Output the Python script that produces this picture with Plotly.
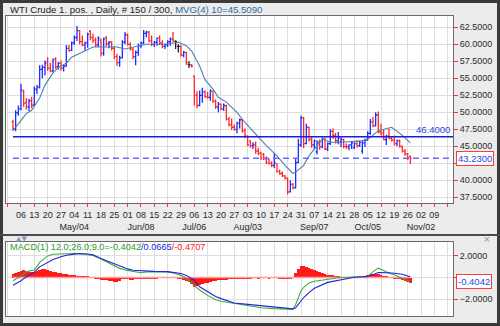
import numpy as np
import pandas as pd
import plotly.graph_objects as go

# ---------------- data ----------------
# daily sessions, WTI crude (1st position)
dates = pd.bdate_range("2015-04-01", "2015-10-27")

opens = [48.6, 47.6, 49.9, 50.5, 53.1, 51.4, 50.8, 51.7, 51.1, 53.4,
         53.7, 56.3, 56.6, 57.4, 56.5, 56.1, 57.9, 56.7, 57.2, 56.5,
         56.8, 59.4, 59.1, 60.2, 61.0, 62.0, 60.4, 59.9, 60.2, 61.9,
         61.0, 60.6, 59.9, 60.6, 58.7, 61.0, 60.1, 60.3, 59.4, 58.2,
         57.3, 58.0, 60.3, 61.4, 60.0, 59.3, 58.2, 58.8, 59.8, 60.2,
         61.6, 61.8, 60.5, 60.0, 60.3, 60.9, 60.2, 59.7, 59.9, 60.4,
         60.8, 60.4, 59.7, 59.7, 58.4, 58.8, 57.0, 56.9, 55.3, 52.5,
         51.0, 52.5, 53.0, 52.3, 52.2, 53.1, 51.6, 50.8, 51.2, 50.5,
         51.0, 49.0, 48.2, 47.8, 47.5, 48.4, 48.9, 47.3, 46.5, 45.8,
         45.1, 45.2, 44.3, 44.0, 43.8, 43.2, 43.1, 42.5, 42.2, 42.4,
         41.3, 41.0, 40.6, 40.3, 38.3, 39.4, 38.9, 42.6, 45.2, 49.2,
         45.4, 47.8, 46.0, 45.2, 44.2, 45.6, 44.9, 46.1, 44.6, 45.4,
         47.2, 46.6, 45.8, 45.6, 46.0, 45.0, 44.9, 45.2, 44.8, 45.4,
         45.1, 44.3, 45.5, 45.9, 46.9, 48.6, 48.0, 49.6, 47.1, 47.0,
         46.0, 46.5, 46.2, 45.9, 45.4, 45.8, 45.0, 44.3, 43.9, 43.5]
highs = [48.9, 50.3, 51.0, 54.2, 53.3, 52.1, 52.0, 52.3, 53.8, 54.0,
         56.9, 57.0, 57.6, 58.1, 57.3, 57.9, 58.1, 57.4, 57.6, 57.0,
         59.9, 59.9, 60.4, 61.3, 62.7, 62.1, 61.3, 60.4, 61.7, 62.1,
         61.6, 61.0, 61.2, 60.8, 61.0, 61.2, 60.5, 60.5, 59.7, 58.6,
         58.3, 60.6, 61.8, 61.6, 60.3, 59.5, 59.1, 60.1, 60.4, 62.1,
         62.0, 62.0, 61.3, 60.5, 61.0, 61.3, 60.6, 60.1, 60.6, 61.0,
         61.8, 60.6, 60.0, 59.9, 59.0, 58.9, 57.5, 57.1, 55.4, 53.1,
         53.2, 53.6, 53.2, 53.0, 53.4, 53.2, 51.9, 51.5, 51.3, 51.3,
         51.1, 49.3, 49.1, 48.2, 48.6, 49.1, 48.9, 47.6, 46.6, 45.9,
         45.6, 45.7, 44.8, 44.2, 44.0, 43.5, 43.2, 42.8, 44.0, 42.5,
         41.6, 41.3, 40.8, 40.4, 40.0, 39.6, 43.2, 46.1, 49.5, 49.3,
         48.3, 47.9, 46.4, 46.0, 45.9, 46.0, 46.3, 46.3, 45.6, 47.5,
         47.6, 47.0, 47.1, 46.3, 46.1, 45.4, 45.3, 45.7, 45.6, 45.9,
         45.8, 45.9, 46.1, 47.2, 49.0, 49.3, 50.0, 50.1, 48.3, 47.4,
         46.7, 47.6, 46.4, 46.6, 46.0, 46.0, 45.1, 44.6, 44.0, 43.6]
lows = [47.3, 47.2, 49.5, 50.3, 50.8, 50.4, 50.2, 50.6, 50.9, 52.7,
        53.5, 55.0, 55.4, 56.1, 55.9, 55.9, 56.4, 56.3, 56.1, 56.0,
        56.7, 58.9, 59.0, 59.9, 60.5, 60.0, 59.7, 59.1, 59.5, 60.6,
        60.2, 59.6, 59.6, 58.2, 58.3, 59.7, 59.4, 59.1, 57.8, 56.8,
        56.7, 57.9, 60.0, 59.8, 59.1, 57.8, 56.9, 58.3, 59.4, 60.0,
        61.0, 60.3, 59.7, 59.6, 59.8, 59.9, 59.4, 59.3, 59.6, 59.8,
        60.3, 59.3, 58.8, 58.2, 58.1, 57.0, 56.5, 56.6, 51.0, 50.6,
        50.9, 51.4, 52.1, 52.0, 51.7, 51.4, 50.5, 50.0, 50.3, 50.2,
        48.8, 47.9, 47.4, 47.3, 46.9, 47.6, 47.0, 46.2, 45.0, 44.8,
        44.6, 43.9, 43.7, 43.0, 43.0, 42.4, 42.3, 41.9, 41.8, 41.1,
        40.8, 40.5, 40.1, 37.9, 38.2, 38.7, 38.8, 42.5, 44.9, 44.7,
        45.3, 45.7, 44.8, 44.6, 43.8, 44.5, 44.7, 44.4, 44.3, 45.2,
        46.1, 45.4, 45.3, 44.9, 44.7, 44.6, 44.4, 44.6, 44.6, 44.8,
        44.9, 43.9, 44.9, 45.8, 46.7, 47.8, 47.9, 46.9, 46.6, 45.9,
        45.2, 46.0, 45.7, 45.1, 45.0, 44.8, 44.1, 43.6, 43.0, 42.4]
closes = [47.6, 49.9, 50.5, 53.3, 51.3, 50.8, 51.7, 51.0, 53.4, 53.7,
          56.3, 56.6, 57.2, 56.5, 56.1, 57.7, 56.7, 57.2, 56.5, 56.8,
          59.4, 59.1, 60.2, 61.0, 62.0, 60.4, 59.9, 60.2, 61.5, 61.0,
          60.6, 59.9, 60.9, 58.7, 60.8, 60.1, 60.3, 59.4, 58.2, 57.3,
          58.0, 60.3, 61.4, 60.0, 59.3, 58.2, 58.8, 59.8, 60.2, 61.6,
          61.8, 60.5, 60.0, 60.3, 60.9, 60.2, 59.7, 59.9, 60.4, 60.8,
          60.6, 60.4, 59.7, 58.4, 58.8, 57.3, 57.0, 56.8, 52.5, 51.0,
          52.5, 53.0, 52.3, 52.2, 53.1, 51.6, 50.8, 51.2, 50.5, 51.0,
          49.0, 48.2, 47.8, 47.5, 48.4, 48.9, 47.3, 46.5, 45.2, 45.1,
          45.2, 44.3, 44.0, 43.3, 43.2, 42.6, 42.5, 42.2, 42.6, 41.3,
          41.0, 40.7, 40.3, 38.3, 39.4, 38.9, 42.6, 45.2, 49.2, 45.4,
          47.8, 46.0, 45.2, 45.8, 45.6, 44.9, 46.1, 44.6, 45.4, 47.2,
          46.6, 45.8, 46.2, 46.0, 45.0, 44.9, 45.2, 45.5, 45.4, 45.1,
          45.6, 45.5, 45.9, 46.9, 48.6, 48.0, 49.6, 47.1, 46.8, 46.0,
          46.5, 46.2, 45.9, 45.4, 45.8, 45.0, 44.3, 43.9, 43.3, 43.23]

# 10-day moving average, MVG(4)
ma_dates = ["2015-04-01", "2015-04-06", "2015-04-08", "2015-04-10", "2015-04-15",
            "2015-04-17", "2015-04-22", "2015-04-24", "2015-04-29", "2015-05-01",
            "2015-05-07", "2015-05-13", "2015-05-20", "2015-05-26", "2015-05-29",
            "2015-06-04", "2015-06-10", "2015-06-19", "2015-06-26", "2015-07-01",
            "2015-07-03", "2015-07-08", "2015-07-10", "2015-07-15", "2015-07-17",
            "2015-07-22", "2015-07-28", "2015-07-31", "2015-08-06", "2015-08-12",
            "2015-08-18", "2015-08-21", "2015-08-26", "2015-08-27", "2015-09-01",
            "2015-09-03", "2015-09-08", "2015-09-10", "2015-09-15", "2015-09-21",
            "2015-10-01", "2015-10-06", "2015-10-09", "2015-10-16", "2015-10-22",
            "2015-10-27"]
ma_values = [47.3, 48.9, 49.8, 50.3, 52.1, 54.0, 55.8, 56.6, 57.2, 58.1,
             58.9, 59.6, 59.6, 59.6, 59.3, 59.6, 60.0, 60.0, 60.3, 59.8,
             59.0, 56.8, 54.8, 53.4, 52.2, 51.5, 50.0, 48.5, 46.8, 45.1,
             43.6, 42.2, 41.0, 41.2, 42.2, 43.6, 45.1, 46.1, 45.6, 45.6,
             45.8, 46.3, 47.3, 47.8, 46.6, 45.509]

# MACD(12, 26, 9)
macd_dates = ["2015-04-01", "2015-04-06", "2015-04-08", "2015-04-13", "2015-04-15",
              "2015-04-20", "2015-04-22", "2015-04-27", "2015-04-29", "2015-05-04",
              "2015-05-06", "2015-05-11", "2015-05-13", "2015-05-18", "2015-05-21",
              "2015-05-25", "2015-05-27", "2015-06-01", "2015-06-03", "2015-06-08",
              "2015-06-10", "2015-06-15", "2015-06-22", "2015-06-25", "2015-06-29",
              "2015-07-01", "2015-07-06", "2015-07-08", "2015-07-13", "2015-07-16",
              "2015-07-20", "2015-07-27", "2015-08-03", "2015-08-10", "2015-08-17",
              "2015-08-24", "2015-08-25", "2015-08-26", "2015-08-27", "2015-08-28",
              "2015-08-31", "2015-09-01", "2015-09-03", "2015-09-07", "2015-09-14",
              "2015-09-21", "2015-09-28", "2015-10-05", "2015-10-07", "2015-10-09",
              "2015-10-13", "2015-10-15", "2015-10-19", "2015-10-22", "2015-10-27"]
macd_line = [-0.30, 0.15, 0.55, 0.70, 1.40, 2.00, 2.15, 2.20, 2.22, 2.22,
             2.20, 2.13, 2.04, 1.72, 1.35, 1.10, 0.85, 0.66, 0.55, 0.45,
             0.52, 0.55, 0.52, 0.38, 0.20, -0.05, -0.75, -1.15, -1.65, -2.05,
             -2.20, -2.42, -2.62, -2.80, -2.88, -2.96, -2.98, -2.95, -2.50, -1.90,
             -1.25, -0.90, -0.50, -0.35, -0.15, 0.00, 0.05, 0.05, 0.55, 0.87,
             0.65, 0.40, 0.25, -0.05, -0.4042]
signal_line = [-0.71, -0.30, 0.06, 0.50, 0.99, 1.40, 1.67, 1.92, 2.07, 2.17,
               2.22, 2.18, 2.10, 1.76, 1.48, 1.30, 1.05, 0.80, 0.68, 0.62,
               0.59, 0.57, 0.55, 0.45, 0.37, 0.20, -0.25, -0.86, -1.30, -1.75,
               -1.95, -2.35, -2.48, -2.60, -2.70, -2.81, -2.85, -2.90, -2.80, -2.50,
               -2.15, -1.85, -1.40, -1.00, -0.45, -0.19, 0.03, 0.12, 0.25, 0.46,
               0.48, 0.45, 0.40, 0.30, 0.0665]
macd_hist = [0.35, 0.45, 0.5, 0.6,
             0.7, 0.65, 0.55, 0.5, 0.5, 0.6, 0.7, 0.75, 0.75, 0.7,
             0.6, 0.55, 0.5, 0.45, 0.4, 0.35, 0.3, 0.25, 0.2, 0.2,
             0.18, 0.15, 0.12, 0.1, 0.08, 0.05, 0.02, -0.05, -0.15, -0.2,
             -0.25, -0.25, -0.3, -0.35, -0.4, -0.45, -0.3, -0.15, -0.1, -0.15,
             -0.2, -0.2, -0.15, -0.1, -0.1, -0.05, -0.1, -0.15, -0.15, -0.1,
             -0.05, -0.03, -0.02, 0.0, -0.02, -0.02, -0.03, -0.02, -0.05, -0.1,
             -0.2, -0.3, -0.4, -0.6, -0.85, -0.8, -0.7, -0.6, -0.55, -0.5,
             -0.4, -0.35, -0.3, -0.25, -0.25, -0.2, -0.2, -0.15, -0.1, -0.05,
             -0.05, -0.05, -0.05, -0.05, -0.05, -0.05, -0.03, -0.03, -0.05, -0.03,
             -0.02, -0.03, -0.05, -0.03, -0.02, -0.03, -0.05, -0.05, -0.05, -0.1,
             -0.05, 0.05, 0.4, 0.8, 1.05, 1.05, 1.0, 0.85, 0.75, 0.7,
             0.6, 0.5, 0.4, 0.3, 0.25, 0.2, 0.2, 0.15, 0.1, 0.05,
             0.02, 0.0, -0.02, -0.02, 0.0, 0.0, 0.02, 0.05, 0.1, 0.2,
             0.3, 0.35, 0.35, 0.3, 0.2, 0.15, 0.1, 0.05, 0.0, -0.05,
             -0.1, -0.15, -0.25, -0.35, -0.42, -0.4707]

# user drawn levels
level_line = 46.40
last_close_line = closes[-1]

# weekly axis labels (Mondays), month captions under the first listed week
week_starts = pd.date_range("2015-03-30", "2015-11-16", freq="W-MON")
month_captions = {"2015-05-04": "May/04", "2015-06-08": "Jun/08", "2015-07-06": "Jul/06",
                  "2015-08-03": "Aug/03", "2015-09-07": "Sep/07", "2015-10-05": "Oct/05",
                  "2015-11-02": "Nov/02"}

# ---------------- helpers ----------------
ORIGIN = "2015-04-06"


def pos(d):
    """Session slot of a date (weekdays, counted from the first April Monday)."""
    return int(np.busday_count(ORIGIN, pd.Timestamp(d).strftime("%Y-%m-%d")))


assert len(dates) == len(opens) == len(highs) == len(lows) == len(closes) == len(macd_hist)
assert len(ma_dates) == len(ma_values)
assert len(macd_dates) == len(macd_line) == len(signal_line)

xb = np.array([pos(d) for d in dates])
o, h, l, c = map(np.array, (opens, highs, lows, closes))

W, H = 500, 326
XR = [-5.62, 162.0]
BLUE, RED, BLACK = "#1f2bff", "#ff2a2a", "#202020"
FONT = "Liberation Sans, Arial, sans-serif"

tickvals, ticktext = [], []
for d in week_starts:
    key = d.strftime("%Y-%m-%d")
    tickvals.append(pos(d))
    if d < pd.Timestamp("2015-04-06") or d > pd.Timestamp("2015-11-09"):
        ticktext.append("")
    elif key in month_captions:
        ticktext.append(d.strftime("%d") + "<br>" + month_captions[key])
    else:
        ticktext.append(d.strftime("%d"))

fig = go.Figure()

# price bars: rising, falling, unchanged
moving = c != o
fig.add_trace(go.Ohlc(
    x=xb[moving], open=o[moving], high=h[moving], low=l[moving], close=c[moving],
    increasing=dict(line=dict(color=BLUE, width=1.3)),
    decreasing=dict(line=dict(color=RED, width=1.3)),
    tickwidth=0.5, hoverinfo="skip", xaxis="x", yaxis="y", showlegend=False))
flat = ~moving
fig.add_trace(go.Ohlc(
    x=xb[flat], open=o[flat], high=h[flat], low=l[flat], close=c[flat],
    increasing=dict(line=dict(color=BLACK, width=1.3)),
    decreasing=dict(line=dict(color=BLACK, width=1.3)),
    tickwidth=0.5, hoverinfo="skip", xaxis="x", yaxis="y", showlegend=False))

# moving average
fig.add_trace(go.Scatter(
    x=[pos(d) for d in ma_dates], y=ma_values, mode="lines",
    line=dict(color="#4d7fb3", width=1.1), hoverinfo="skip",
    xaxis="x", yaxis="y", showlegend=False))

# MACD panel
fig.add_trace(go.Scatter(
    x=[xb[0], xb[-1]], y=[0, 0], mode="lines",
    line=dict(color="#ff9c9c", width=1.5), hoverinfo="skip",
    xaxis="x2", yaxis="y2", showlegend=False))
fig.add_trace(go.Bar(
    x=xb, y=macd_hist, width=1.0, marker=dict(color="#ff1a1a", line=dict(width=0)),
    hoverinfo="skip", xaxis="x2", yaxis="y2", showlegend=False))
mx = [pos(d) for d in macd_dates]
fig.add_trace(go.Scatter(
    x=mx, y=macd_line, mode="lines", line=dict(color="#3cad3c", width=1.1),
    hoverinfo="skip", xaxis="x2", yaxis="y2", showlegend=False))
fig.add_trace(go.Scatter(
    x=mx, y=signal_line, mode="lines", line=dict(color="#2424d8", width=1.1),
    hoverinfo="skip", xaxis="x2", yaxis="y2", showlegend=False))

# level lines
fig.add_shape(type="line", xref="x", yref="y", x0=xb[0], x1=XR[1],
              y0=level_line, y1=level_line, line=dict(color="#1c1cd6", width=1.3))
fig.add_shape(type="line", xref="x", yref="y", x0=xb[0], x1=XR[1],
              y0=last_close_line, y1=last_close_line,
              line=dict(color="#6a6aff", width=1.5, dash="6px,4px"))

# window frames
fig.add_shape(type="rect", xref="paper", yref="paper", x0=0, x1=1, y0=0, y1=1,
              line=dict(color="#3a3a3a", width=6), layer="above")
fig.add_shape(type="line", xref="paper", yref="paper", x0=0, x1=1,
              y0=1 - 235 / H, y1=1 - 235 / H, line=dict(color="#4a4a4a", width=2))


def px_x(v):
    return v / W


def px_y(v):
    return 1 - v / H


ann = []
ann.append(dict(
    xref="paper", yref="paper", x=px_x(8), y=px_y(9.5), xanchor="left", yanchor="middle",
    text="WTI Crude 1. pos. , Daily, # 150 / 300, "
         "<span style='color:#2f6aa6'>MVG(4) 10=%.4f</span>" % ma_values[-1],
    showarrow=False, font=dict(family=FONT, size=9.6, color="#222")))
ann.append(dict(
    xref="paper", yref="y", x=px_x(452), y=level_line, xanchor="right", yanchor="bottom",
    text="%.4f" % level_line, showarrow=False, yshift=0,
    font=dict(family=FONT, size=9.5, color="#2a45e6")))
ann.append(dict(
    xref="paper", yref="y", x=px_x(456), y=last_close_line, xanchor="left", yanchor="middle",
    text="%.4f" % last_close_line, showarrow=False, bgcolor="white",
    bordercolor="#ff3b3b", borderwidth=1, borderpad=1,
    font=dict(family=FONT, size=9.5, color="#2a45e6")))
ann.append(dict(
    xref="paper", yref="y2", x=px_x(456), y=macd_line[-1], xanchor="left", yanchor="middle",
    text="%.4f" % macd_line[-1], showarrow=False, bgcolor="white",
    bordercolor="#ff3b3b", borderwidth=1, borderpad=1,
    font=dict(family=FONT, size=9.5, color="#2a45e6")))
ann.append(dict(
    xref="paper", yref="paper", x=px_x(8), y=px_y(247), xanchor="left", yanchor="middle",
    text="<span style='color:#2c9a2c'>MACD(1) 12.0;26.0;9.0=%.4f</span>"
         "<span style='color:#2424d8'>/%.4f</span>"
         "<span style='color:#ff2020'>/%.4f</span>" % (macd_line[-1], signal_line[-1], macd_hist[-1]),
    showarrow=False, font=dict(family=FONT, size=9.2)))
ann.append(dict(
    xref="paper", yref="paper", x=px_x(14), y=px_y(238.5), xanchor="left", yanchor="middle",
    text="▲▼", showarrow=False, font=dict(family="DejaVu Sans", size=7, color="#8796b8")))
ann.append(dict(
    xref="paper", yref="paper", x=px_x(487), y=px_y(238.5), xanchor="center", yanchor="middle",
    text="×", showarrow=False, font=dict(family="DejaVu Sans", size=9, color="#8796b8")))

grid = "#dedede"
frame = "#6a6a6a"
tickfont = dict(family=FONT, size=9, color="#2a2a2a")

fig.update_layout(
    width=W, height=H, margin=dict(l=0, r=0, t=0, b=0),
    paper_bgcolor="#ececec", plot_bgcolor="white",
    bargap=0, showlegend=False, annotations=ann,
    xaxis=dict(domain=[px_x(6), px_x(453)], range=XR, anchor="y",
               tickmode="array", tickvals=tickvals, ticktext=ticktext, tickangle=0,
               ticks="outside", ticklen=3, tickcolor="#ff3030",
               showgrid=True, gridcolor=grid, gridwidth=1, zeroline=False,
               showline=True, mirror=True, linecolor=frame, linewidth=1,
               tickfont=tickfont, rangeslider=dict(visible=False), fixedrange=True),
    yaxis=dict(domain=[px_y(203), px_y(16)], range=[36.66, 64.16], side="right",
               anchor="x", tickmode="array",
               tickvals=[37.5, 40, 42.5, 45, 47.5, 50, 52.5, 55, 57.5, 60, 62.5],
               tickformat=".4f", ticks="outside", ticklen=4, tickcolor="#ff3030",
               showgrid=True, gridcolor=grid, zeroline=False,
               showline=True, mirror=True, linecolor=frame, linewidth=1,
               tickfont=tickfont, fixedrange=True),
    xaxis2=dict(domain=[px_x(6), px_x(453)], range=XR, anchor="y2",
                tickmode="array", tickvals=tickvals, showticklabels=False, ticks="",
                showgrid=True, gridcolor=grid, zeroline=False,
                showline=True, mirror=True, linecolor=frame, linewidth=1,
                fixedrange=True),
    yaxis2=dict(domain=[px_y(316), px_y(242)], range=[-3.56, 3.29], side="right",
                anchor="x2", tickmode="array", tickvals=[-2, 0, 2], tickformat=".4f",
                ticks="outside", ticklen=4, tickcolor="#ff3030",
                showgrid=True, gridcolor=grid, zeroline=False,
                showline=True, mirror=True, linecolor=frame, linewidth=1,
                tickfont=tickfont, fixedrange=True),
)

fig.write_html("out.html")
